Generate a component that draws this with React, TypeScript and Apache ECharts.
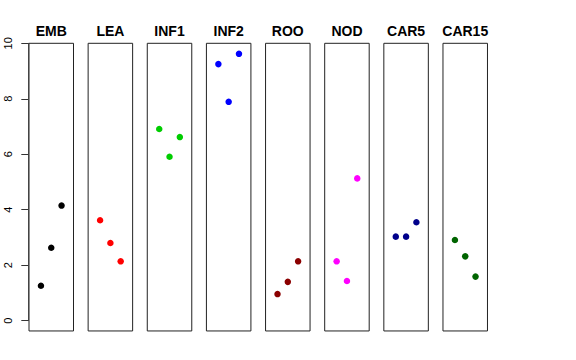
import React, { useEffect, useRef } from "react";
import * as echarts from "echarts";

const categories = ["EMB", "LEA", "INF1", "INF2", "ROO", "NOD", "CAR5", "CAR15"];
const positions = [1, 2, 3];
const seriesValues: number[][] = [
  [1.26, 2.63, 4.15],
  [3.62, 2.8, 2.14],
  [6.91, 5.91, 6.62],
  [9.25, 7.89, 9.62],
  [0.96, 1.4, 2.14],
  [2.14, 1.43, 5.13],
  [3.03, 3.03, 3.55],
  [2.91, 2.32, 1.59],
];
const colors = ["#000000", "#FF0000", "#00CD00", "#0000FF", "#8B0000", "#FF00FF", "#00008B", "#006400"];
const yTicks = [0, 2, 4, 6, 8, 10];

const FONT = "'Liberation Sans', Arial, Helvetica, sans-serif";

export default function App() {
  const ref = useRef<HTMLDivElement>(null);
  useEffect(() => {
    if (!ref.current) return;
    const chart = echarts.init(ref.current, null, { renderer: "svg" });
    const pitch = 59.14;
    const left0 = 29;
    const pw = 44.5;
    const top = 43.3;
    const pxPerUnit = 27.74;
    const yMin = -0.37;
    const yMax = 10;
    const h = (yMax - yMin) * pxPerUnit;

    const grids: any[] = [];
    const xAxes: any[] = [];
    const yAxes: any[] = [];
    const series: any[] = [];
    const graphics: any[] = [];

    categories.forEach((cat, i) => {
      const left = left0 + pitch * i;
      grids.push({ left, top, width: pw, height: h, show: true, borderColor: "#222", borderWidth: 1, backgroundColor: "transparent" });
      xAxes.push({ type: "value", gridIndex: i, min: -0.16, max: 4.16, show: false });
      yAxes.push({ type: "value", gridIndex: i, min: yMin, max: yMax, show: false });
      series.push({
        type: "scatter",
        xAxisIndex: i,
        yAxisIndex: i,
        symbol: "circle",
        symbolSize: 6.5,
        itemStyle: { color: colors[i], opacity: 1 },
        data: positions.map((p, j) => [p, seriesValues[i][j]]),
        silent: true,
      });
      graphics.push({
        type: "text",
        x: left + pw / 2,
        y: 31,
        style: {
          text: cat,
          fontFamily: FONT,
          fontWeight: "bold",
          fontSize: 14,
          fill: "#000",
          textAlign: "center",
          textVerticalAlign: "middle",
        },
      });
    });

    // axis grid
    const axisIdx = categories.length;
    grids.push({ left: 28.3, top, width: 1, height: 10 * pxPerUnit, show: false });
    xAxes.push({ type: "value", gridIndex: axisIdx, show: false, min: 0, max: 1 });
    yAxes.push({
      type: "value",
      gridIndex: axisIdx,
      min: yTicks[0],
      max: yTicks[yTicks.length - 1],
      interval: 2,
      position: "left",
      axisLine: { show: true, lineStyle: { color: "#444", width: 1 } },
      axisTick: { show: true, length: 7, lineStyle: { color: "#333", width: 1 } },
      axisLabel: { show: true, rotate: 90, margin: 15, fontSize: 11, fontFamily: FONT, color: "#000" },
      splitLine: { show: false },
    });

    chart.setOption({
      animation: false,
      backgroundColor: "#fff",
      grid: grids,
      xAxis: xAxes,
      yAxis: yAxes,
      series,
      graphic: graphics,
    });
    return () => chart.dispose();
  }, []);
  return <div ref={ref} style={{ width: 576, height: 360, position: "absolute", left: 0, top: 0 }} />;
}
